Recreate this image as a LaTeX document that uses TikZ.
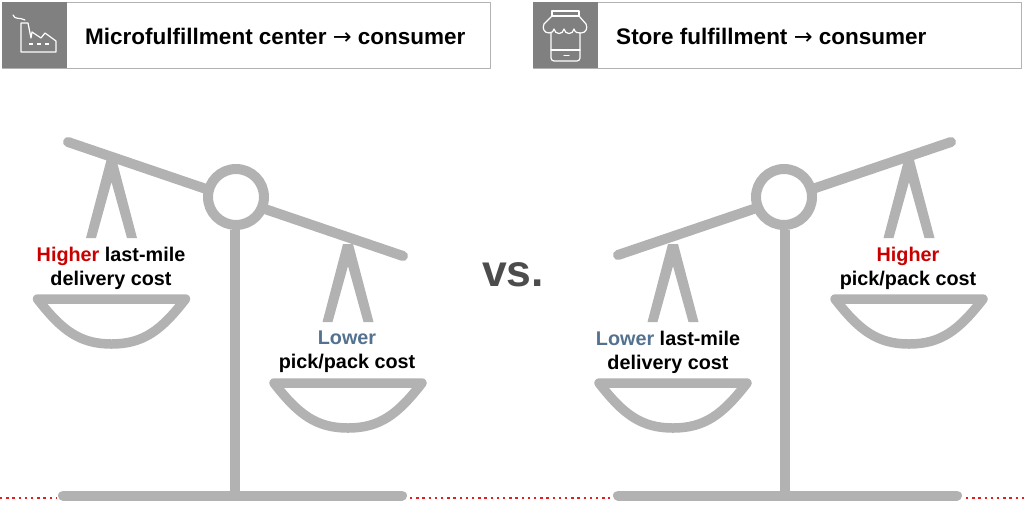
\documentclass[tikz,border=0pt]{standalone}
\usepackage{fontspec}
\setmainfont{Liberation Sans}
\newfontfamily\arrowfont{DejaVu Sans}
\definecolor{scalegray}{HTML}{B2B2B2}
\definecolor{boxgray}{HTML}{808080}
\definecolor{higherred}{HTML}{C80000}
\definecolor{lowerblue}{HTML}{54728F}
\definecolor{dotred}{HTML}{E02020}
\newcommand{\toarrow}{{\arrowfont\mdseries →}}
\tikzset{
	scalebar/.style={scalegray,line width=10pt},
	iconline/.style={white,line width=1.2pt,line join=round,line cap=round},
	headbox/.style={draw=scalegray,fill=white,line width=1pt},
	iconbox/.style={fill=boxgray},
	headtext/.style={anchor=west,font=\bfseries\fontsize{22.5}{26}\selectfont},
	costtext/.style={align=center,font=\bfseries\fontsize{19.8}{24}\selectfont},
	dotline/.style={dotred,line width=2.4pt,dash pattern=on 2.4pt off 3.8pt}
}
\begin{document}
\begin{tikzpicture}[x=1pt,y=-1pt,line join=round]
	\useasboundingbox (0,0) rectangle (1024,504);
	% dotted line behind the stands
	\foreach \a/\b in {0/56,410/610,966/1024}{\draw[dotline] (\a,497.7)--(\b,497.7);}
	% header boxes
	\draw[headbox] (2,2) rectangle (490,68);
	\fill[iconbox] (2,2) rectangle (67,68);
	\node[headtext] (micro) at (81.7,36) {Microfulfillment center \toarrow{} consumer};
	\draw[headbox] (533,2) rectangle (1021,68);
	\fill[iconbox] (533,2) rectangle (598,68);
	\node[headtext] (store) at (612.7,36) {Store fulfillment \toarrow{} consumer};
	% factory
	\draw[iconline] (13,15) .. controls (15,20) and (19,17) .. (25,20);
	\draw[iconline] (21,52)--(21,23)--(28,23)--(31,38)--(32,32)--(41,38)--(45,33)--(56,41)--(56,52)--cycle;
	\draw[iconline,line cap=butt,dash pattern=on 4pt off 4pt] (29,44)--(51,44);
	% shop
	\draw[iconline] (552,16)--(552,11)--(579,11)--(579,16)--cycle;
	\draw[iconline] (552,16)--(544,24) .. controls (542,28) and (544,33) .. (549,33) .. controls (552,33) and (554,31) .. (554,29)
		.. controls (555,35) and (563,35) .. (564,29) .. controls (565,35) and (573,35) .. (574,29)
		.. controls (575,33) and (578,33) .. (581,33) .. controls (586,33) and (588,28) .. (586,24)--(579,16);
	\draw[iconline,rounded corners=3pt] (551,33)--(551,61)--(580,61)--(580,33);
	\draw[iconline] (551,50)--(580,50) (564,55.7)--(569,55.7);
	% stands
	\foreach \m/\e/\p/\l/\r/\u/\v in {236/235/197/68/403/142/256,784/785/197/618/951/255/142}{
		\draw[scalebar,line cap=round] (\l,\u)--(\r,\v);
		\draw[scalebar] (\e,230)--(\e,495);
		\draw[scalebar,fill=white] (\m,\p) circle(28);
	}
	\draw[scalebar,line cap=round] (63,495.5)--(402,495.5);
	\draw[scalebar,line cap=round] (618,495.5)--(957,495.5);
	% hangers and pans
	\foreach \x/\y in {111.5/0,348/84,909/0,673/84}{
		\fill[scalegray] (\x-25.5,\y+238)--(\x-15.5,\y+238)--(\x,\y+182)--(\x+15.5,\y+238)--(\x+25.5,\y+238)
			--(\x+5,\y+160)--(\x-5,\y+160)--cycle;
		\draw[scalebar,line width=9.5pt] (\x-74,\y+299)--(\x+74,\y+299)
			.. controls (\x+50,\y+330) and (\x+32,\y+344) .. (\x,\y+344)
			.. controls (\x-32,\y+344) and (\x-50,\y+330) .. (\x-74,\y+299)--cycle;
	}
	\node[costtext] (higherlast) at (111,268.5) {\textcolor{higherred}{Higher} last-mile\\delivery cost};
	\node[costtext] (lowerpick) at (347,351.5) {\textcolor{lowerblue}{Lower}\\pick/pack cost};
	\node[costtext] (lowerlast) at (668,352.5) {\textcolor{lowerblue}{Lower} last-mile\\delivery cost};
	\node[costtext] (higherpick) at (908,268.5) {\textcolor{higherred}{Higher}\\pick/pack cost};
	\node[font=\bfseries\fontsize{44.5}{48}\selectfont,text=black!70] (vs) at (513,275) {vs.};
\end{tikzpicture}
\end{document}
